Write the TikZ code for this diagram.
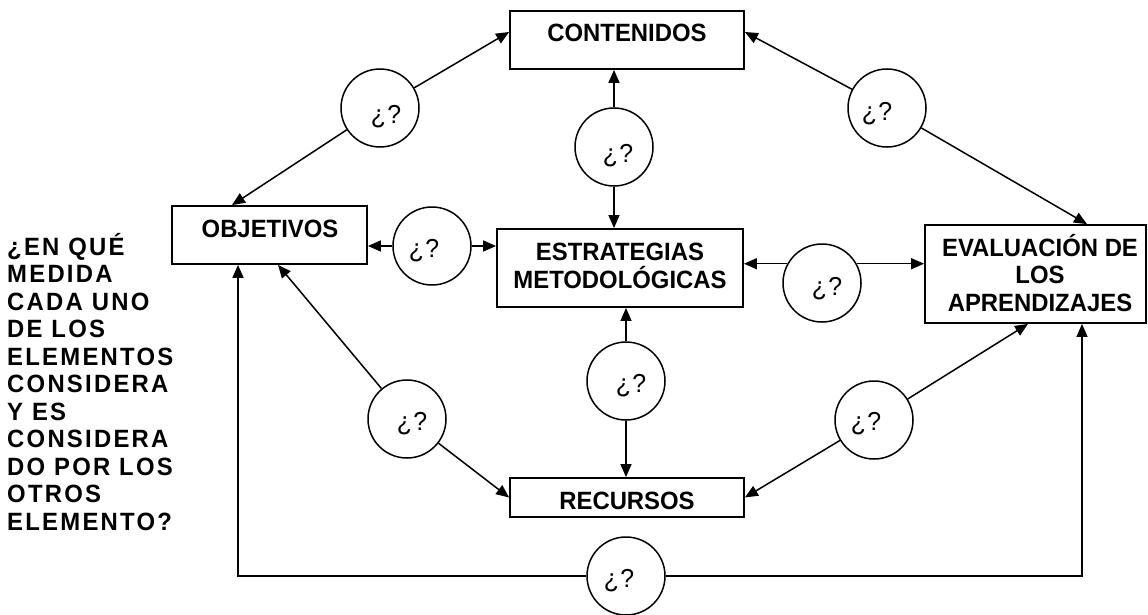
\documentclass[tikz,border=0pt]{standalone}
\usepackage{fontspec}
\setmainfont{Liberation Sans}[FakeStretch=0.955]
\newfontfamily\spacedfont{Liberation Sans}[FakeStretch=0.955,LetterSpace=9]
\usetikzlibrary{arrows.meta,calc}
\begin{document}
\begin{tikzpicture}[x=1pt,y=-1pt,
  box/.style={draw,line width=1.8pt,inner sep=0pt},
  circ/.style={draw,circle,line width=1.5pt,minimum size=78pt,inner sep=0pt},
  lab/.style={font=\fontsize{25}{27.5}\selectfont\bfseries,inner sep=0pt,align=center},
  side/.style={font=\spacedfont\fontsize{25}{27.5}\selectfont\bfseries,inner sep=0pt,align=left},
  q/.style={font=\fontsize{26}{30}\selectfont,inner sep=0pt},
  conn/.style={line width=1.5pt,-{Triangle[length=13pt,width=11pt]}}
]
\useasboundingbox (0,0) rectangle (1148,615);

% boxes
\node[box,minimum width=234pt,minimum height=58pt] (cont) at (627,40) {};
\node[box,minimum width=195pt,minimum height=58pt] (obj) at (269.5,235) {};
\node[box,minimum width=246pt,minimum height=78pt] (est) at (620,268) {};
\node[box,minimum width=221pt,minimum height=98pt] (eval) at (1035.5,274) {};
\node[box,minimum width=234pt,minimum height=39pt] (rec) at (627,497.5) {};

% box texts
\node[lab] (tcont) at (627,33) {CONTENIDOS};
\node[lab] (tobj) at (270,229) {OBJETIVOS};
\node[lab] (test) at (620,266) {ESTRATEGIAS\\METODOLÓGICAS};
\node[lab] (teval) at (1040,273) {EVALUACIÓN DE\\LOS\\APRENDIZAJES};
\node[lab] (trec) at (627,501) {RECURSOS};

% side question
\node[side,anchor=north west] (side) at (7,233) {¿EN QUÉ\\MEDIDA\\CADA UNO\\DE LOS\\ELEMENTOS\\CONSIDERA\\Y ES\\CONSIDERA\\DO POR LOS\\OTROS\\ELEMENTO?};

% circles
\node[circ] (c1) at (380,108) {};
\node[circ] (c2) at (614,147) {};
\node[circ] (c3) at (887,108) {};
\node[circ] (c4) at (432,246) {};
\node[circ] (c5) at (822,283) {};
\node[circ] (c6) at (407,419) {};
\node[circ] (c7) at (626,381) {};
\node[circ] (c8) at (874,420) {};
\node[circ] (c9) at (626,576) {};

\node[q] (q1) at ($(c1)+(6,9)$) {¿\kern1.5pt?};
\node[q] (q2) at ($(c2)+(4,9)$) {¿\kern1.5pt?};
\node[q] (q3) at ($(c3)+(-10,6)$) {¿\kern1.5pt?};
\node[q] (q4) at ($(c4)+(-8,5)$) {¿\kern1.5pt?};
\node[q] (q5) at ($(c5)+(5,6)$) {¿\kern1.5pt?};
\node[q] (q6) at ($(c6)+(5,5)$) {¿\kern1.5pt?};
\node[q] (q7) at ($(c7)+(5,5)$) {¿\kern1.5pt?};
\node[q] (q8) at ($(c8)+(-8,4)$) {¿\kern1.5pt?};
\node[q] (q9) at ($(c9)+(-7,5)$) {¿\kern1.5pt?};

% connectors
\draw[conn] (c1) -- ($(cont.west)+(0,-8)$);
\draw[conn] (c1) -- ($(obj.north)+(-37.5,0)$);
\draw[conn] (c2) -- (c2 |- cont.south);
\draw[conn] (c2) -- (c2 |- est.north);
\draw[conn] (c3) -- ($(cont.east)+(0,-8)$);
\draw[conn] (c3) -- ($(eval.north)+(51.5,0)$);
\draw[conn] (c4) -- (c4 -| obj.east);
\draw[conn] (c4) -- (c4 -| est.west);
\draw[conn] (c5.151) -- (c5.151 -| est.east);
\draw[conn] (c5.29) -- (c5.29 -| eval.west);
\draw[conn] (c7) -- (c7 |- est.south);
\draw[conn] (c7) -- (c7 |- rec.north);
\draw[conn] (c6) -- ($(obj.south)+(8.5,0)$);
\draw[conn] (c6) -- (rec.west);
\draw[conn] (c8) -- (rec.east);
\draw[conn] (c8) -- ($(eval.south)+(-7.5,0)$);
\coordinate (br) at (1082,576);
\coordinate (bl) at (238,576);
\draw[conn] (c9) -- (br) -- (br |- eval.south);
\draw[conn] (c9) -- (bl) -- (bl |- obj.south);
\end{tikzpicture}
\end{document}
